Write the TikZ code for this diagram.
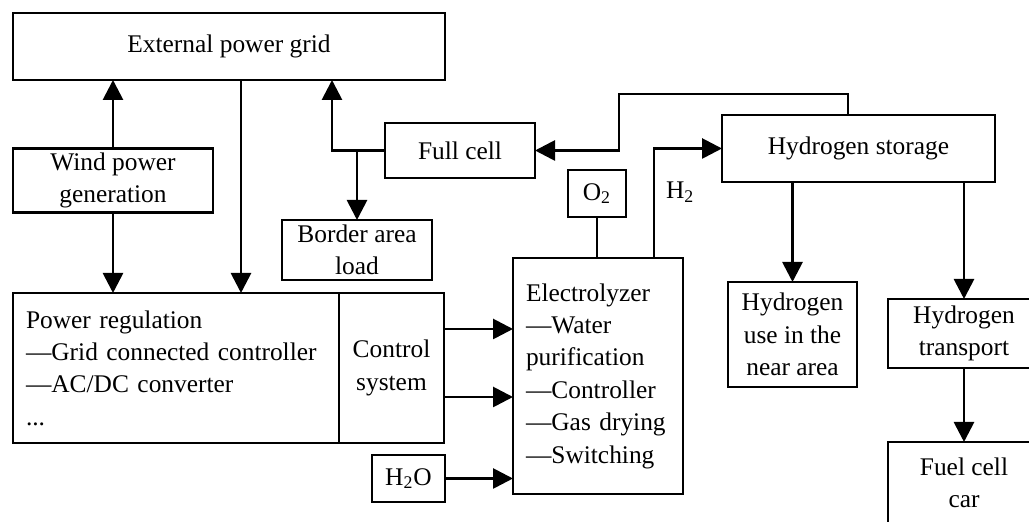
\documentclass[tikz,border=0pt]{standalone}
\usepackage{fontspec}
\setmainfont{Liberation Serif}
\usetikzlibrary{arrows.meta, positioning, calc}

\begin{document}
\begin{tikzpicture}[
    x=0.5pt, y=-0.5pt,
    box/.style={rectangle, draw, line width=1.4pt, outer sep=0pt, inner sep=2pt, align=center, font=\fontsize{12.7}{16.2}\selectfont},
    listbox/.style={box, align=left, anchor=north west, inner xsep=6.5pt},
    arrow/.style={line width=1.4pt, -{Triangle[length=10pt, width=10pt]}},
    link/.style={line width=1.4pt},
    label/.style={font=\fontsize{12.7}{16.2}\selectfont}
]
\useasboundingbox (0,0) rectangle (1029,522);
\clip (0,0) rectangle (1029,522);

% Nodes
\node[box, minimum width=216pt, minimum height=33.5pt] (grid) at (229,46.5) {External power grid};
\node[box, minimum width=100pt, minimum height=31.5pt] (wind) at (113,180.5) {Wind power\\generation};
\node[box, minimum width=75pt, minimum height=30pt] (border) at (357,250) {Border area\\load};
\node[box, minimum width=75pt, minimum height=27.5pt] (fullcell) at (460,150.5) {Full cell};
\node[box, minimum width=136.5pt, minimum height=33.5pt] (storage) at (858.5,148.5) {Hydrogen storage};
\node[box, minimum width=29pt, minimum height=23.5pt] (o2) at (597,193.5) {O\textsubscript{2}};

\node[listbox, text width=150pt, minimum height=75pt] (preg) at (13,293) {Power regulation\\---Grid connected controller\\---AC/DC converter\\...};
\node[box, minimum width=52.5pt, minimum height=75pt, right=0pt of preg] (ctrl) {Control\\system};
\node[box, minimum width=36.5pt, minimum height=23.5pt] (h2o) at (408.5,478.5) {H\textsubscript{2}O};

\node[listbox, text width=72pt, minimum height=118pt] (elec) at (513,258) {Electrolyzer\\---Water\\purification\\---Controller\\---Gas drying\\---Switching};

\node[box, minimum width=64.5pt, minimum height=52.5pt] (near) at (792.5,334.5) {Hydrogen\\use in the\\near area};
\node[box, minimum width=76pt, minimum height=34.5pt] (transport) at (964,333.5) {Hydrogen\\transport};
\node[box, minimum width=76pt, minimum height=41pt, below=37pt of transport] (car) {Fuel cell\\car};

% Arrows
\draw[arrow] (wind.north) -- (wind.north |- grid.south);
\draw[arrow] (wind.south) -- (wind.south |- preg.north);
\draw[arrow] ([xshift=6pt]grid.south) -- ([xshift=6pt]grid.south |- preg.north);
\draw[arrow] (fullcell.west) -| ([xshift=51.5pt]grid.south);
\draw[arrow] (fullcell.west -| border.north) -- (border.north);
\draw[arrow] ([xshift=-5.25pt]storage.north) |- ++(-229,-21) |- (fullcell.east);
\draw[arrow] ([xshift=28pt]elec.north) |- node[label, pos=0.3, right, xshift=2pt] {H\textsubscript{2}} (storage.west);
\draw[link] (o2.south) -- (o2.south |- elec.north);

\draw[arrow] ([yshift=19.5pt]ctrl.east) -- ([yshift=19.5pt]ctrl.east -| elec.west);
\draw[arrow] ([yshift=-14.5pt]ctrl.east) -- ([yshift=-14.5pt]ctrl.east -| elec.west);
\draw[arrow] (h2o.east) -- (h2o.east -| elec.west);

\draw[arrow] (storage.south -| near.north) -- (near.north);
\draw[arrow] (storage.south -| transport.north) -- (transport.north);
\draw[arrow] (transport.south) -- (car.north);

\end{tikzpicture}
\end{document}
